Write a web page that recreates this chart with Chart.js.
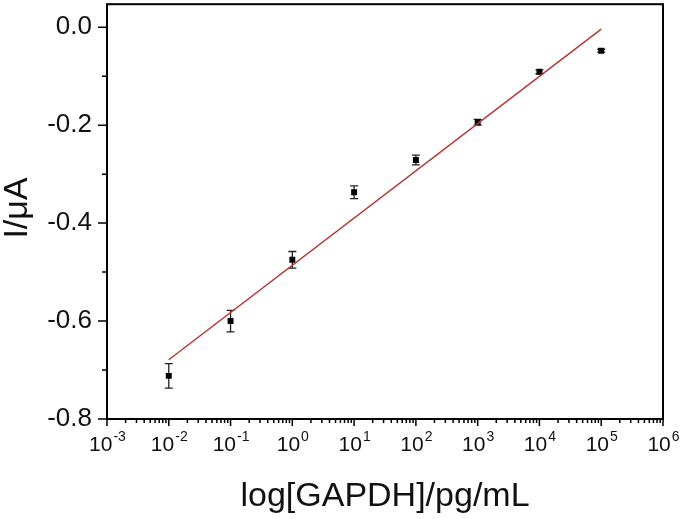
<!DOCTYPE html>
<html>
<head>
<meta charset="utf-8">
<script src="https://cdn.jsdelivr.net/npm/chart.js@4.4.1/dist/chart.umd.min.js"></script>
<style>
  html, body { margin: 0; padding: 0; background: #fff; }
  #wrap { width: 685px; height: 519px; }
</style>
</head>
<body>
<div id="wrap"><canvas id="chart" width="685" height="519"></canvas></div>
<script>
// GAPDH concentration (pg/mL) vs current (uA)
const concentrations = [1e-2, 1e-1, 1e0, 1e1, 1e2, 1e3, 1e4, 1e5];
const currents = [-0.712, -0.600, -0.475, -0.337, -0.271, -0.194, -0.091, -0.048];
const errors = [0.025, 0.022, 0.017, 0.013, 0.010, 0.006, 0.004, 0.003];

// linear fit line end points
const fitX = [1e-2, 1e5];
const fitY = [-0.679, -0.004];

const yTicks = [-0.8, -0.6, -0.4, -0.2, 0.0];
const yMinorTicks = [-0.7, -0.5, -0.3, -0.1];
const xTickExponents = [-3, -2, -1, 0, 1, 2, 3, 4, 5, 6];

const FONT = '"Liberation Sans", Arial, sans-serif';

const pts = concentrations.map((c, i) => ({ x: c, y: currents[i] }));
const fitPts = fitX.map((c, i) => ({ x: c, y: fitY[i] }));

const decor = {
  id: 'decor',
  beforeDatasetsDraw(chart) {
    const { ctx, scales: { x, y } } = chart;
    ctx.save();
    ctx.strokeStyle = '#222';
    ctx.lineWidth = 1.3;
    concentrations.forEach((c, i) => {
      const px = x.getPixelForValue(c);
      const top = y.getPixelForValue(currents[i] + errors[i]);
      const bot = y.getPixelForValue(currents[i] - errors[i]);
      ctx.beginPath();
      ctx.moveTo(px, top); ctx.lineTo(px, bot);
      ctx.moveTo(px - 4, top); ctx.lineTo(px + 4, top);
      ctx.moveTo(px - 4, bot); ctx.lineTo(px + 4, bot);
      ctx.stroke();
    });
    ctx.restore();
  },
  afterDraw(chart) {
    const { ctx, chartArea: a, scales: { x, y } } = chart;
    ctx.save();
    ctx.strokeStyle = '#000';
    ctx.lineWidth = 2;
    ctx.strokeRect(a.left, a.top, a.right - a.left, a.bottom - a.top);

    // y ticks, outward
    ctx.lineWidth = 1.5;
    ctx.beginPath();
    yTicks.forEach(v => {
      const py = y.getPixelForValue(v);
      ctx.moveTo(a.left - 9, py); ctx.lineTo(a.left, py);
    });
    yMinorTicks.forEach(v => {
      const py = y.getPixelForValue(v);
      ctx.moveTo(a.left - 5, py); ctx.lineTo(a.left, py);
    });
    // x ticks (log), outward
    xTickExponents.forEach(e => {
      const px = x.getPixelForValue(Math.pow(10, e));
      ctx.moveTo(px, a.bottom); ctx.lineTo(px, a.bottom + 7);
      if (e < 6) {
        for (let k = 2; k <= 9; k++) {
          const mx = x.getPixelForValue(k * Math.pow(10, e));
          ctx.moveTo(mx, a.bottom); ctx.lineTo(mx, a.bottom + 4);
        }
      }
    });
    ctx.stroke();

    // x tick labels with superscript exponents
    ctx.fillStyle = '#111';
    ctx.textBaseline = 'alphabetic';
    ctx.textAlign = 'left';
    xTickExponents.forEach(e => {
      const px = x.getPixelForValue(Math.pow(10, e));
      const base = '10', sup = String(e);
      ctx.font = '21px ' + FONT;
      const wb = ctx.measureText(base).width;
      ctx.font = '14px ' + FONT;
      const ws = ctx.measureText(sup).width;
      const x0 = px - (wb + ws) / 2;
      ctx.font = '21px ' + FONT;
      ctx.fillText(base, x0, 451);
      ctx.font = '14px ' + FONT;
      ctx.fillText(sup, x0 + wb + 1, 441);
    });

    // axis titles
    ctx.font = '34px ' + FONT;
    ctx.textAlign = 'center';
    ctx.fillText('log[GAPDH]/pg/mL', (a.left + a.right) / 2, 506);
    ctx.translate(27, 208);
    ctx.rotate(-Math.PI / 2);
    ctx.fillText('I/\u03bcA', 0, 0);
    ctx.restore();
  }
};

new Chart(document.getElementById('chart'), {
  type: 'scatter',
  data: {
    datasets: [
      {
        label: 'fit',
        type: 'line',
        data: fitPts,
        borderColor: '#b83434',
        borderWidth: 1.5,
        pointRadius: 0,
        fill: false
      },
      {
        label: 'I',
        data: pts,
        pointStyle: 'rect',
        pointRadius: 4.2,
        backgroundColor: '#000',
        borderColor: '#000',
        borderWidth: 0
      }
    ]
  },
  options: {
    responsive: false,
    animation: false,
    layout: { padding: { top: 2, right: 22, left: 0, bottom: 0 } },
    plugins: { legend: { display: false }, tooltip: { enabled: false } },
    scales: {
      x: {
        type: 'logarithmic',
        min: 1e-3,
        max: 1e6,
        grid: { display: false, drawTicks: false },
        border: { display: false },
        ticks: { display: false },
        afterFit(s) {
          s.height = 100;
          s.paddingLeft = 0; s.paddingRight = 0;
        }
      },
      y: {
        min: -0.8,
        max: 0.047,
        grid: { display: false, drawTicks: false },
        border: { display: false },
        afterBuildTicks(s) { s.ticks = yTicks.map(v => ({ value: v })); },
        ticks: {
          padding: 15,
          color: '#111',
          font: { family: FONT, size: 26 },
          callback: v => v.toFixed(1)
        },
        afterFit(s) {
          s.width = 107;
          s.paddingTop = 0; s.paddingBottom = 0;
        }
      }
    }
  },
  plugins: [decor]
});
</script>
</body>
</html>
